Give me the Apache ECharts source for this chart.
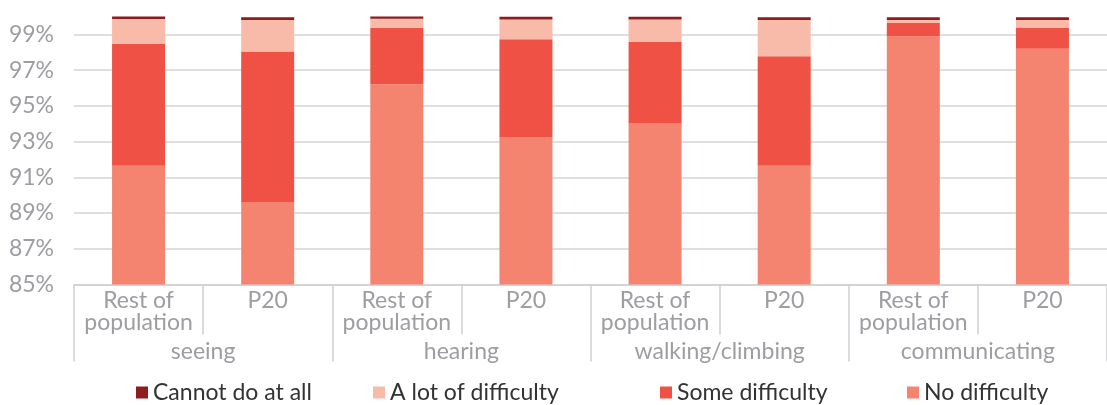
<!DOCTYPE html>
<html>
<head>
<meta charset="utf-8">
<script src="https://cdn.jsdelivr.net/npm/echarts@6/dist/echarts.min.js"></script>
<style>
  html, body { margin: 0; padding: 0; background: #fff; }
  #chart { width: 1107px; height: 405px; }
</style>
</head>
<body>
<div id="chart"></div>
<script>
// categories
const categories = ['Rest of\npopulation', 'P20', 'Rest of\npopulation', 'P20',
  'Rest of\npopulation', 'P20', 'Rest of\npopulation', 'P20'];
const groups = ['seeing', 'hearing', 'walking/climbing', 'communicating'];

// values (%), stacked from bottom
const noDifficulty = [91.64, 89.62, 96.21, 93.26, 94.04, 91.64, 98.88, 98.2];
const someDifficulty = [6.82, 8.42, 3.15, 5.47, 4.54, 6.14, 0.76, 1.16];
const aLotOfDifficulty = [1.4, 1.77, 0.51, 1.1, 1.25, 2.03, 0.17, 0.45];
const cannotDoAtAll = [0.14, 0.15, 0.13, 0.15, 0.15, 0.15, 0.15, 0.15];

const legendOrder = ['Cannot do at all', 'A lot of difficulty', 'Some difficulty', 'No difficulty'];

const font = 'Lato';
const gray = '#9d9da3';
const lineGray = '#d0d0d4';

const chart = echarts.init(document.getElementById('chart'));

function bar(name, data, color) {
  return {
    name: name,
    type: 'bar',
    stack: 'total',
    data: data,
    barWidth: 53,
    itemStyle: { color: color }
  };
}

// one legend per item so each can sit where the original puts it
const legendLeft = [131, 368, 655, 902];
const legends = legendOrder.map(function (name, i) {
  return {
    data: [name],
    left: legendLeft[i],
    bottom: -4,
    icon: 'rect',
    itemWidth: 12,
    itemHeight: 12,
    textStyle: { fontSize: 23, color: '#333', fontFamily: font }
  };
});

const option = {
  animation: false,
  textStyle: { fontFamily: font },
  grid: { left: 74, top: 16.5, width: 1043, height: 268 },
  legend: legends,
  xAxis: [
    {
      type: 'category',
      data: categories,
      position: 'bottom',
      axisLine: { show: true, lineStyle: { color: lineGray, width: 1.5 } },
      axisTick: { show: true, length: 50, interval: 0, lineStyle: { color: lineGray, width: 1.5 } },
      axisLabel: { interval: 0, fontSize: 23, lineHeight: 22, color: gray, margin: 5 }
    },
    {
      type: 'category',
      data: groups,
      position: 'bottom',
      offset: 0,
      axisLine: { show: false },
      axisTick: { show: true, length: 77, interval: 0, lineStyle: { color: lineGray, width: 1.5 } },
      axisLabel: { interval: 0, fontSize: 23, color: gray, margin: 56 }
    }
  ],
  yAxis: {
    type: 'value',
    min: 85,
    max: 100,
    interval: 1,
    axisLine: { show: false },
    axisTick: { show: false },
    axisLabel: {
      fontSize: 23,
      color: gray,
      margin: 20,
      formatter: function (v) {
        return (v - 85) % 2 === 0 && v < 100 ? v + '%' : '';
      }
    },
    splitLine: { lineStyle: { color: ['#d4d4d8', 'rgba(0,0,0,0)'], width: 1.5 } }
  },
  series: [
    bar('No difficulty', noDifficulty, '#f4846f'),
    bar('Some difficulty', someDifficulty, '#ef5245'),
    bar('A lot of difficulty', aLotOfDifficulty, '#f8bbaa'),
    bar('Cannot do at all', cannotDoAtAll, '#8e1b1e')
  ]
};

chart.setOption(option);
</script>
</body>
</html>
